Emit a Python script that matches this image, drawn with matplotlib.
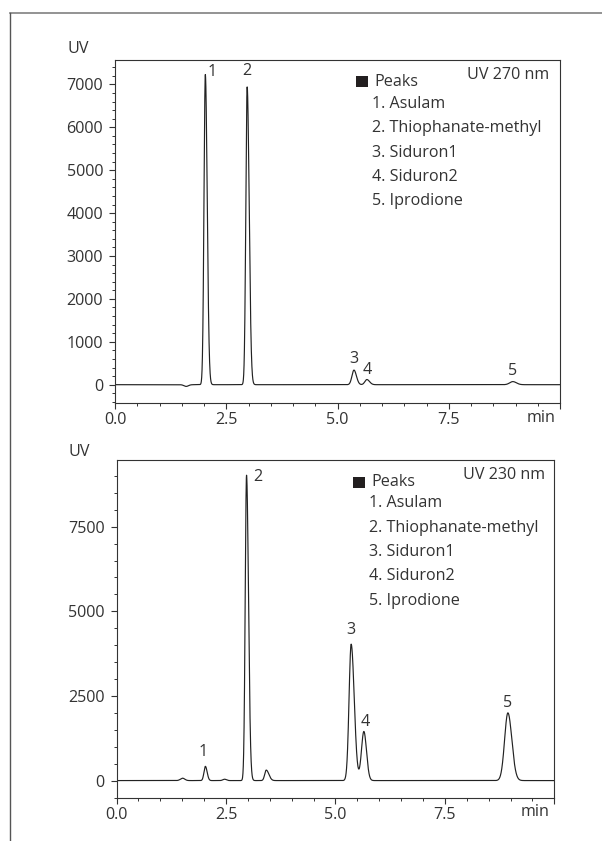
import numpy as np
import matplotlib
matplotlib.use("Agg")
import matplotlib.pyplot as plt
from matplotlib.patches import Rectangle
from matplotlib.lines import Line2D
from matplotlib.ticker import MultipleLocator, FixedLocator, FixedFormatter

# ---------------- data ----------------
compounds = ["Asulam", "Thiophanate-methyl", "Siduron1", "Siduron2", "Iprodione"]
x_ticks = [0.0, 2.5, 5.0, 7.5, 10.0]
x_ticklabels = ["0.0", "2.5", "5.0", "7.5", "min"]

# UV 270 nm : peak table (retention time, height, left width, right width)
rt_270 = [1.60, 2.03, 2.97, 5.37, 5.66, 8.94]
h_270 = [-40, 7230, 6940, 340, 120, 72]
wl_270 = [0.05, 0.030, 0.030, 0.045, 0.045, 0.07]
wr_270 = [0.05, 0.042, 0.045, 0.055, 0.06, 0.08]
lab_270 = ["", "1", "2", "3", "4", "5"]
y_ticks_270 = [0, 1000, 2000, 3000, 4000, 5000, 6000, 7000]

# UV 230 nm
rt_230 = [1.51, 2.03, 2.47, 2.97, 3.42, 5.36, 5.65, 8.94]
h_230 = [70, 420, 40, 9020, 310, 4030, 1450, 2000]
wl_230 = [0.05, 0.032, 0.04, 0.030, 0.035, 0.048, 0.055, 0.075]
wr_230 = [0.05, 0.040, 0.04, 0.045, 0.06, 0.07, 0.06, 0.09]
lab_230 = ["", "1", "", "2", "", "3", "4", "5"]
y_ticks_230 = [0, 2500, 5000, 7500]

# ---------------- style ----------------
W, H = 602, 841
DPI = 100
TXT = "#333333"
FONT = ["Open Sans", "DejaVu Sans"]
FS = 11.6
plt.rcParams["font.family"] = FONT

fig = plt.figure(figsize=(W / DPI, H / DPI), dpi=DPI)


def fx(x):
    return x / W


def fy(y):
    return 1 - y / H


# outer frame (top and left lines)
fig.add_artist(Line2D([fx(10), fx(602)], [fy(13), fy(13)], transform=fig.transFigure,
                      color="#808080", lw=1.2))
fig.add_artist(Line2D([fx(10), fx(10)], [fy(13), fy(841)], transform=fig.transFigure,
                      color="#555555", lw=1.0))

t = np.linspace(0, 10, 5001)


def trace(rt, h, wl, wr):
    y = np.zeros_like(t)
    for r, a, sl, sr in zip(rt, h, wl, wr):
        s = np.where(t < r, sl, sr)
        y += a * np.exp(-0.5 * ((t - r) / s) ** 2)
    return y


def panel(box, rt, h, wl, wr, labs, yt, ylim, yminor, wavelength, lab_off, ylab_pos, leg):
    x0, y0, x1, y1 = box
    ax = fig.add_axes([fx(x0), fy(y1), fx(x1) - fx(x0), fy(y0) - fy(y1)])
    y = trace(rt, h, wl, wr)
    ax.plot(t, y, color="#222222", lw=0.85)
    ax.set_xlim(0, 10)
    ax.set_ylim(*ylim)
    ax.xaxis.set_major_locator(FixedLocator(x_ticks))
    ax.xaxis.set_major_formatter(FixedFormatter(["0.0", "2.5", "5.0", "7.5", ""]))
    ax.xaxis.set_minor_locator(MultipleLocator(0.5))
    ax.yaxis.set_major_locator(FixedLocator(yt))
    ax.yaxis.set_minor_locator(MultipleLocator(yminor))
    ax.tick_params(which="major", direction="out", length=4.5, width=0.8, color=TXT,
                   labelsize=FS, labelcolor=TXT)
    ax.tick_params(axis="x", which="major", pad=2.5)
    ax.tick_params(axis="y", which="major", pad=4)
    ax.tick_params(which="minor", direction="out", length=2.5, width=0.7, color=TXT)
    for sp in ax.spines.values():
        sp.set_color(TXT)
        sp.set_linewidth(0.8)
    # "min" label at the axis end
    ax.annotate(x_ticklabels[-1], xy=(1, 0), xycoords="axes fraction", xytext=(-5, -7),
                textcoords="offset pixels", ha="right", va="top", fontsize=FS, color=TXT)
    # peak labels
    k = 0
    for r, a, lb in zip(rt, h, labs):
        if lb:
            dx, dy = lab_off[k]
            k += 1
            ax.annotate(lb, xy=(r, a), xytext=(dx, dy), textcoords="offset pixels",
                        ha="center", va="center", fontsize=FS, color=TXT)
    # y label
    fig.text(fx(ylab_pos[0]), fy(ylab_pos[1]), "UV", ha="center", va="center",
             fontsize=FS, color=TXT)
    # legend block
    sqx, sqy, px_, py_, ix, iy, dyi, uvx, uvy = leg
    fig.add_artist(Rectangle((fx(sqx), fy(sqy + 11)), 11.5 / W, 11 / H,
                             transform=fig.transFigure, color="#231f20", lw=0))
    fig.text(fx(px_), fy(py_), "Peaks", ha="left", va="center", fontsize=FS, color=TXT)
    for i, c in enumerate(compounds):
        fig.text(fx(ix), fy(iy + dyi * i), f"{i + 1}. {c}", ha="left", va="center",
                 fontsize=FS, color=TXT)
    fig.text(fx(uvx), fy(uvy), f"UV {wavelength} nm", ha="right", va="center",
             fontsize=FS, color=TXT)
    return ax


panel((115, 59.5, 560, 402.7), rt_270, h_270, wl_270, wr_270, lab_270, y_ticks_270,
      (-420, 7580), 200, 270,
      [(7, 3), (0, 15.5), (0, 11), (0, 10), (0, 11)],
      (78, 49.3),
      (356.2, 76, 374.3, 81.7, 371.6, 104.3, 24.2, 549.7, 75))

panel((116.5, 460, 554.3, 797.5), rt_230, h_230, wl_230, wr_230, lab_230, y_ticks_230,
      (-500, 9470), 500, 230,
      [(-2, 14), (11, -2), (0, 14), (1, 9), (0, 10)],
      (79.3, 451.7),
      (353.2, 476.7, 371.6, 482.3, 369.3, 503.3, 24.4, 545, 475))

fig.savefig("out.png", dpi=DPI)
